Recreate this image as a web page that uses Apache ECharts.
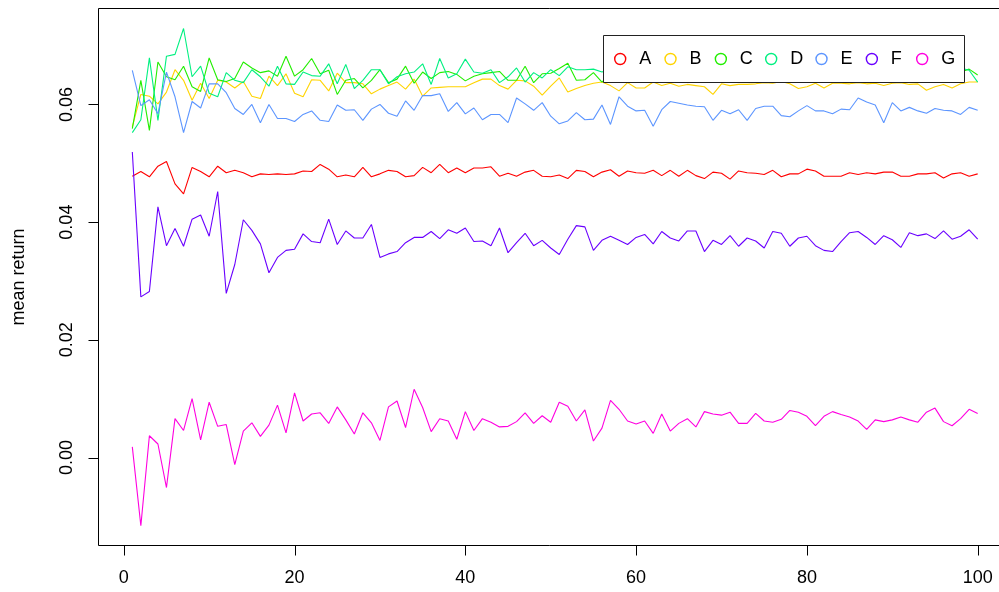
<!DOCTYPE html>
<html>
<head>
<meta charset="utf-8">
<title>mean return</title>
<script src="https://cdn.jsdelivr.net/npm/echarts@6/dist/echarts.min.js"></script>
<style>
  html, body { margin: 0; padding: 0; background: #fff; }
  #main { width: 999px; height: 592px; }
</style>
</head>
<body>
<div id="main"></div>
<script>
const steps = [1,2,3,4,5,6,7,8,9,10,11,12,13,14,15,16,17,18,19,20,21,22,23,24,25,26,27,28,29,30,31,32,33,34,35,36,37,38,39,40,41,42,43,44,45,46,47,48,49,50,51,52,53,54,55,56,57,58,59,60,61,62,63,64,65,66,67,68,69,70,71,72,73,74,75,76,77,78,79,80,81,82,83,84,85,86,87,88,89,90,91,92,93,94,95,96,97,98,99,100]
const names = ['A', 'B', 'C', 'D', 'E', 'F', 'G']
const colors = ['#FF0000', '#FFD400', '#22EE00', '#00F080', '#5C95FF', '#6A00FF', '#FF00E0']
const xTicks = [0, 20, 40, 60, 80, 100]
const yTicks = [0, 0.02, 0.04, 0.06]

const seriesA = [0.0478,0.0486,0.0477,0.0495,0.0503,0.0465,0.0448,0.0493,0.0486,0.0477,0.0495,0.0484,0.0488,0.0484,0.0477,0.0482,0.0481,0.0482,0.0481,0.0482,0.0487,0.0486,0.0498,0.0490,0.0477,0.0480,0.0477,0.0493,0.0477,0.0482,0.0488,0.0486,
  0.0477,0.0479,0.0493,0.0484,0.0498,0.0484,0.0492,0.0484,0.0492,0.0492,0.0494,0.0478,0.0483,0.0478,0.0485,0.0488,0.0478,0.0477,0.0480,0.0474,0.0488,0.0486,0.0477,0.0485,0.0489,0.0478,0.0487,0.0484,0.0483,0.0488,0.0479,0.0488,0.0478,0.0488,
  0.0479,0.0474,0.0485,0.0483,0.0473,0.0487,0.0484,0.0483,0.0481,0.0488,0.0477,0.0482,0.0482,0.0490,0.0487,0.0478,0.0478,0.0478,0.0484,0.0481,0.0484,0.0482,0.0485,0.0485,0.0478,0.0478,0.0482,0.0482,0.0484,0.0475,0.0482,0.0484,0.0478,0.0482]
const seriesB = [0.0562,0.0617,0.0614,0.0601,0.0621,0.0659,0.0641,0.0607,0.0636,0.0610,0.0641,0.0638,0.0628,0.0639,0.0614,0.0610,0.0648,0.0632,0.0652,0.0619,0.0613,0.0642,0.0641,0.0623,0.0653,0.0637,0.0637,0.0635,0.0618,0.0626,0.0632,0.0638,
  0.0626,0.0643,0.0614,0.0628,0.0629,0.0630,0.0630,0.0630,0.0637,0.0643,0.0643,0.0632,0.0626,0.0641,0.0640,0.0631,0.0616,0.0631,0.0645,0.0621,0.0627,0.0632,0.0636,0.0638,0.0632,0.0623,0.0637,0.0628,0.0628,0.0638,0.0632,0.0636,0.0631,0.0634,
  0.0632,0.0630,0.0617,0.0635,0.0632,0.0634,0.0634,0.0635,0.0637,0.0636,0.0639,0.0635,0.0627,0.0630,0.0636,0.0628,0.0636,0.0636,0.0635,0.0637,0.0635,0.0636,0.0632,0.0636,0.0637,0.0634,0.0635,0.0624,0.0630,0.0634,0.0628,0.0635,0.0638,0.0638]
const seriesC = [0.0559,0.0641,0.0556,0.0672,0.0647,0.0642,0.0665,0.0630,0.0622,0.0679,0.0642,0.0639,0.0644,0.0672,0.0662,0.0654,0.0657,0.0648,0.0682,0.0648,0.0659,0.0678,0.0652,0.0658,0.0617,0.0641,0.0644,0.0628,0.0641,0.0659,0.0637,0.0643,
  0.0665,0.0636,0.0655,0.0644,0.0654,0.0656,0.0651,0.0640,0.0648,0.0652,0.0654,0.0656,0.0641,0.0641,0.0665,0.0637,0.0652,0.0653,0.0661,0.0670,0.0641,0.0642,0.0654,0.0638,
  0.0652,0.0648,0.0660,0.0645,0.0655,0.0650,0.0662,0.0647,0.0653,0.0658,0.0644,0.0651,0.0659,0.0646,0.0654,0.0649,0.0661,0.0645,0.0652,0.0657,0.0648,0.0655,0.0643,0.0650,0.0660,0.0647,0.0653,0.0649,0.0658,0.0645,0.0651,0.0656,0.0648,0.0654,0.0646,0.0659,0.0650,0.0652,0.0645,0.0657,0.0650,0.0655,0.0660,0.0650]
const seriesD = [0.0552,0.0574,0.0679,0.0573,0.0682,0.0685,0.0729,0.0647,0.0665,0.0619,0.0613,0.0654,0.0641,0.0637,0.0659,0.0647,0.0631,0.0665,0.0635,0.0634,0.0655,0.0649,0.0648,0.0669,0.0635,0.0668,0.0627,0.0641,0.0659,0.0659,0.0635,0.0647,
  0.0652,0.0655,0.0669,0.0634,0.0678,0.0645,0.0652,0.0677,0.0655,0.0653,0.0659,0.0637,0.0647,0.0662,0.0638,0.0654,0.0645,0.0659,0.0649,0.0664,0.0659,0.0659,0.0660,0.0655,
  0.0660,0.0656,0.0652,0.0663,0.0657,0.0650,0.0658,0.0665,0.0654,0.0660,0.0652,0.0664,0.0657,0.0651,0.0662,0.0656,0.0650,0.0661,0.0655,0.0659,0.0653,0.0663,0.0657,0.0652,0.0660,0.0654,0.0662,0.0656,0.0650,0.0661,0.0655,0.0659,0.0652,0.0664,0.0657,0.0653,0.0660,0.0655,0.0661,0.0656,0.0660,0.0662,0.0658,0.0638]
const seriesE = [0.0658,0.0598,0.0608,0.0584,0.0655,0.0613,0.0552,0.0605,0.0594,0.0635,0.0635,0.0620,0.0593,0.0583,0.0600,0.0569,0.0600,0.0576,0.0576,0.0571,0.0583,0.0589,0.0573,0.0571,0.0599,0.0590,0.0591,0.0573,0.0592,0.0600,0.0585,0.0580,
  0.0606,0.0590,0.0615,0.0615,0.0618,0.0588,0.0603,0.0584,0.0594,0.0574,0.0583,0.0583,0.0569,0.0611,0.0601,0.0590,0.0603,0.0580,0.0567,0.0572,0.0586,0.0574,0.0575,0.0599,0.0566,0.0613,0.0597,0.0589,0.0590,0.0563,0.0591,0.0605,0.0602,0.0599,
  0.0597,0.0596,0.0573,0.0590,0.0584,0.0591,0.0573,0.0593,0.0597,0.0597,0.0581,0.0579,0.0589,0.0598,0.0589,0.0589,0.0584,0.0592,0.0591,0.0611,0.0604,0.0599,0.0569,0.0603,0.0589,0.0595,0.0589,0.0585,0.0593,0.0590,0.0589,0.0583,0.0595,0.0590]
const seriesF = [0.0519,0.0273,0.0282,0.0426,0.0360,0.0389,0.0359,0.0405,0.0412,0.0376,0.0452,0.0279,0.0328,0.0404,0.0386,0.0363,0.0314,0.0340,0.0352,0.0354,0.0380,0.0367,0.0365,0.0405,0.0362,0.0385,0.0373,0.0373,0.0396,0.0340,0.0346,0.0350,
  0.0365,0.0374,0.0374,0.0384,0.0372,0.0387,0.0381,0.0390,0.0367,0.0368,0.0360,0.0390,0.0348,0.0365,0.0381,0.0360,0.0369,0.0356,0.0345,0.0371,0.0394,0.0392,0.0352,0.0369,0.0376,0.0369,0.0362,0.0374,0.0379,0.0363,0.0384,0.0373,0.0368,0.0385,
  0.0385,0.0350,0.0369,0.0362,0.0377,0.0359,0.0373,0.0368,0.0356,0.0384,0.0381,0.0359,0.0373,0.0376,0.0360,0.0352,0.0350,0.0367,0.0382,0.0384,0.0374,0.0362,0.0377,0.0370,0.0357,0.0382,0.0377,0.0380,0.0372,0.0385,0.0371,0.0376,0.0387,0.0371]
const seriesG = [0.0018,-0.0116,0.0037,0.0023,-0.0051,0.0066,0.0046,0.0100,0.0030,0.0094,0.0053,0.0056,-0.0012,0.0045,0.0059,0.0036,0.0055,0.0089,0.0042,0.0110,0.0062,0.0074,0.0076,0.0058,0.0086,0.0064,0.0040,0.0076,0.0059,0.0029,0.0086,0.0096,
  0.0051,0.0116,0.0085,0.0044,0.0066,0.0062,0.0031,0.0078,0.0046,0.0066,0.0060,0.0052,0.0053,0.0061,0.0076,0.0058,0.0071,0.0060,0.0094,0.0087,0.0062,0.0081,0.0028,0.0050,0.0097,0.0082,0.0062,0.0057,0.0062,0.0041,0.0074,0.0045,0.0058,0.0066,
  0.0052,0.0078,0.0074,0.0072,0.0077,0.0058,0.0058,0.0075,0.0062,0.0060,0.0065,0.0080,0.0077,0.0070,0.0054,0.0070,0.0078,0.0073,0.0069,0.0062,0.0048,0.0064,0.0061,0.0064,0.0069,0.0064,0.0060,0.0077,0.0084,0.0061,0.0054,0.0066,0.0082,0.0075]

const allSeries = [seriesA, seriesB, seriesC, seriesD, seriesE, seriesF, seriesG]
const font = 'Liberation Sans, Arial, Helvetica, sans-serif'

let chart = echarts.init(document.getElementById('main'), null, { renderer: 'canvas' })

// one legend per key so the columns sit at even steps, like R's legend box
let legends = names.map((name, k) => ({
  data: [{
    name: name,
    icon: 'circle',
    itemStyle: { color: '#fff', borderColor: colors[k], borderWidth: 1.4 }
  }],
  left: 614 + k * 50.33,
  top: 49,
  padding: 0,
  itemGap: 0,
  itemWidth: 28,
  itemHeight: 11,
  selectedMode: false,
  z: 10,
  textStyle: { fontSize: 18, color: '#000', fontFamily: font, lineHeight: 20 }
}))

let option = {
  animation: false,
  backgroundColor: '#fff',
  color: colors,
  textStyle: { fontFamily: font },
  grid: {
    left: 98.5,
    top: 8.5,
    width: 913,
    height: 537,
    outerBoundsMode: 'none',
    containLabel: false,
    show: true,
    borderColor: '#000',
    borderWidth: 1,
    backgroundColor: 'transparent'
  },
  legend: legends,
  xAxis: {
    type: 'value',
    position: 'bottom',
    min: -2.96,
    max: 103.96,
    splitLine: { show: false },
    axisLine: { show: false, onZero: false },
    axisTick: { show: false },
    axisLabel: {
      customValues: xTicks,
      margin: 24,
      fontSize: 18,
      color: '#000',
      fontFamily: font
    }
  },
  yAxis: {
    type: 'value',
    position: 'left',
    min: -0.01495,
    max: 0.0763,
    name: 'mean return',
    nameLocation: 'middle',
    nameGap: 70,
    nameRotate: 90,
    nameTextStyle: { fontSize: 18, color: '#000', fontFamily: font },
    splitLine: { show: false },
    axisLine: { show: false, onZero: false },
    axisTick: { show: false },
    axisLabel: {
      customValues: yTicks,
      rotate: 90,
      margin: 22,
      fontSize: 18,
      color: '#000',
      fontFamily: font,
      formatter: v => v.toFixed(2)
    }
  },
  series: names.map((name, k) => ({
    name: name,
    type: 'line',
    data: steps.map((x, i) => [x, allSeries[k][i]]),
    showSymbol: false,
    symbol: 'none',
    lineStyle: { width: 1.1, color: colors[k] },
    itemStyle: { color: colors[k] },
    z: 2
  }))
}

chart.setOption(option)

// tick marks and the legend frame, placed through the axes' own scales
let tickLen = 10
let grid = { bottom: 545.5, left: 98.5 }
let marks = []
xTicks.forEach(v => {
  let px = Math.round(chart.convertToPixel({ xAxisIndex: 0 }, v)) + 0.5
  marks.push({ type: 'line', z: 5, shape: { x1: px, y1: grid.bottom, x2: px, y2: grid.bottom + tickLen }, style: { stroke: '#000', lineWidth: 1 } })
})
yTicks.forEach(v => {
  let py = Math.round(chart.convertToPixel({ yAxisIndex: 0 }, v)) + 0.5
  marks.push({ type: 'line', z: 5, shape: { x1: grid.left - tickLen, y1: py, x2: grid.left, y2: py }, style: { stroke: '#000', lineWidth: 1 } })
})
marks.push({
  type: 'rect',
  z: 8,
  shape: { x: 603.5, y: 35.5, width: 361, height: 47 },
  style: { fill: '#fff', stroke: '#222', lineWidth: 1 }
})
chart.setOption({ graphic: marks })

window.onresize = chart.resize
</script>
</body>
</html>
